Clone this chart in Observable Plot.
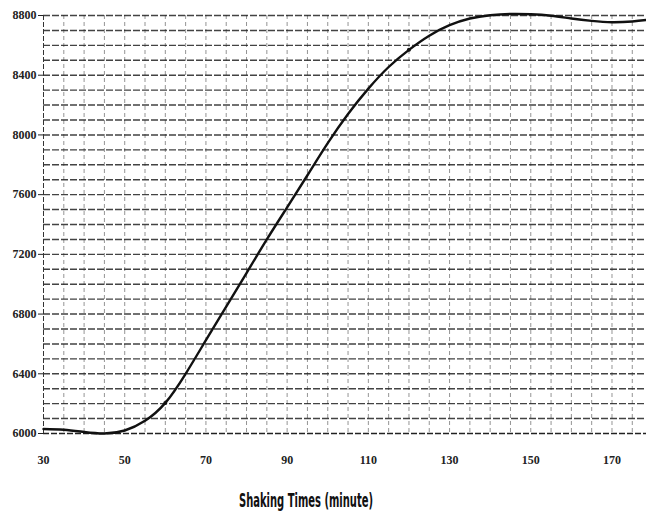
<!DOCTYPE html>
<html>
<head>
<meta charset="utf-8">
<script src="https://cdn.jsdelivr.net/npm/d3@7"></script>
<script src="https://cdn.jsdelivr.net/npm/@observablehq/plot@0.6"></script>
<style>
  html, body { margin: 0; padding: 0; background: #fff; }
  #chart { width: 646px; height: 527px; overflow: hidden; }
</style>
</head>
<body>
<div id="chart"></div>
<script>
// Shaking time (minute) and reading
const minutes = [30, 35, 40, 45, 50, 55, 60, 65, 70, 75, 80, 85, 90, 95, 100, 105, 110, 115, 120, 125, 130, 135, 140, 145, 150, 155, 160, 165, 170, 175, 178.5];
const values  = [6030, 6025, 6010, 6000, 6020, 6085, 6205, 6400, 6625, 6850, 7075, 7300, 7515, 7730, 7945, 8140, 8310, 8455, 8570, 8665, 8735, 8780, 8802, 8810, 8808, 8798, 8780, 8764, 8755, 8760, 8770];
const markedMinutes = [60, 120];

const xTicks = [30, 50, 70, 90, 110, 130, 150, 170];
const yTicks = [6000, 6400, 6800, 7200, 7600, 8000, 8400, 8800];
const xGrid = d3.range(35, 179, 5);
const yGrid = d3.range(6100, 8801, 100);
const xTitle = "Shaking Times (minute)";

const data = minutes.map((m, i) => ({m, v: values[i]}));
const marked = data.filter(d => markedMinutes.includes(d.m));

const serif = "'Liberation Serif', 'DejaVu Serif', serif";

const chart = Plot.plot({
  width: 646,
  height: 527,
  marginLeft: 43,
  marginRight: 0,
  marginTop: 15,
  marginBottom: 94,
  style: {fontFamily: serif, background: "#fff", overflow: "visible"},
  x: {domain: [30, 178.5]},
  y: {domain: [6000, 8800]},
  marks: [
    // vertical dashed grid
    Plot.ruleX(xGrid, {stroke: "#666", strokeWidth: 1, strokeDasharray: "4,3", strokeOpacity: 0.7}),
    // horizontal dashed grid
    Plot.ruleY(yGrid, {stroke: "#222", strokeWidth: 1.4, strokeDasharray: "7,2", strokeOpacity: 0.85}),
    // frame-like axis lines
    Plot.ruleY([6000], {stroke: "#222", strokeWidth: 1.4, strokeDasharray: "6,2"}),
    Plot.ruleX([30], {stroke: "#333", strokeWidth: 1, strokeDasharray: "5,2"}),
    Plot.axisY({
      ticks: yTicks, tickSize: 5, tickPadding: 2,
      tickFormat: d => String(d), label: null,
      fontSize: 12, fontWeight: "bold", fill: "#222", stroke: "#222"
    }),
    Plot.axisX({
      ticks: xTicks, tickSize: 0, tickPadding: 22,
      tickFormat: d => String(d), label: null,
      fontSize: 12, fontWeight: "bold", fill: "#222"
    }),
    Plot.line(data, {x: "m", y: "v", curve: "natural", stroke: "#111", strokeWidth: 2.4}),
    Plot.dot(marked, {x: "m", y: "v", r: 2, fill: "#111"}),
    Plot.text([xTitle], {
      frameAnchor: "bottom", dy: 73, dx: -39,
      fontSize: 20, fontWeight: "bold", fill: "#111",
      fontFamily: "'Liberation Sans Narrow', 'DejaVu Sans Condensed', sans-serif",
      className: "xtitle"
    })
  ]
});

document.getElementById("chart").appendChild(chart);
// compress the title horizontally to match the condensed face
const t = chart.querySelector(".xtitle text");
if (t) { t.setAttribute("textLength", "134"); t.setAttribute("lengthAdjust", "spacingAndGlyphs"); }
</script>
</body>
</html>
